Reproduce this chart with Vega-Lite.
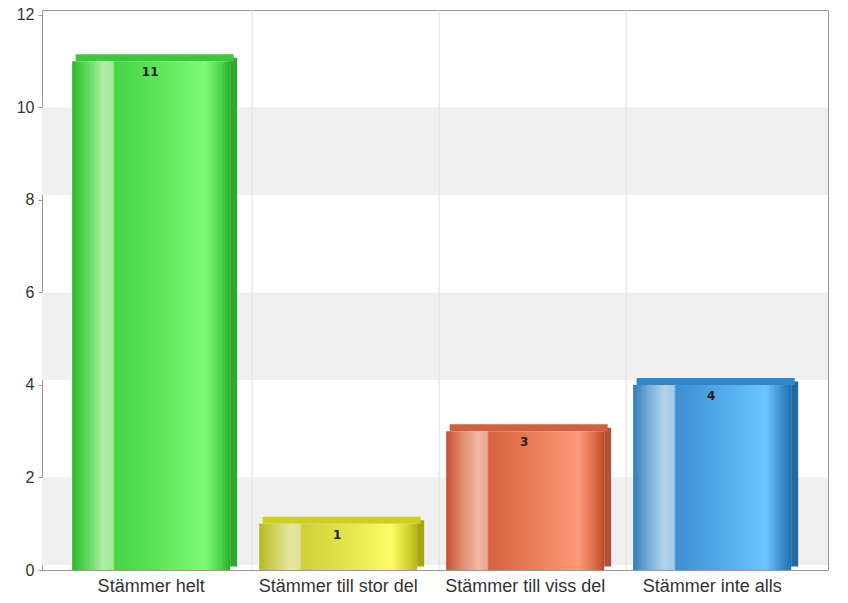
{
  "$schema": "https://vega.github.io/schema/vega-lite/v6.json",
  "width": 786,
  "height": 560,
  "autosize": {"type": "none"},
  "padding": {"left": 42, "top": 10, "right": 20, "bottom": 33},
  "background": "white",
  "config": {
    "view": {"stroke": "#999999", "strokeWidth": 1},
    "font": "Liberation Sans",
    "axis": {"labelFont": "Liberation Sans", "labelFontSize": 16, "labelColor": "#333333", "domainColor": "#999999", "tickColor": "#999999", "grid": false, "title": null},
    "axisX": {"labelAngle": 0, "ticks": false, "labelPadding": 7, "labelFontSize": 18, "bandPosition": 0.5, "labelAlign": "center"}
  },
  "data": {
    "values": [
      {"cat": "Stämmer helt", "n": 11},
      {"cat": "Stämmer till stor del", "n": 1},
      {"cat": "Stämmer till viss del", "n": 3},
      {"cat": "Stämmer inte alls", "n": 4}
    ]
  },
  "resolve": {"scale": {"color": "independent"}},
  "layer": [
    {
      "data": {"values": [{"a": 0, "b": 2}, {"a": 4, "b": 6}, {"a": 8, "b": 10}]},
      "mark": {"type": "rect", "color": "#f0f0f0", "yOffset": -5},
      "encoding": {
        "x": {"value": 0},
        "x2": {"value": "width"},
        "y": {"field": "a", "type": "quantitative", "scale": {"domain": [0, 12.108], "nice": false, "zero": true},
              "axis": {"values": [0, 2, 4, 6, 8, 10, 12], "tickSize": 4, "labelPadding": 4, "domainColor": "#999999"}},
        "y2": {"field": "b"}
      }
    },
    {
      "transform": [{"filter": "datum.cat !== 'Stämmer helt'"}],
      "mark": {"type": "rule", "color": "#e0e0e0", "xOffset": -7},
      "encoding": {
        "x": {"field": "cat", "type": "nominal", "sort": ["Stämmer helt", "Stämmer till stor del", "Stämmer till viss del", "Stämmer inte alls"], "bandPosition": 0,
              "scale": {"paddingInner": 0.155, "paddingOuter": 0.179, "align": 0.45},
              "axis": {"labelAngle": 0, "ticks": false, "labelPadding": 7, "labelFontSize": 18, "bandPosition": 0.5, "labelAlign": "center", "domainColor": "#999999"}}
      }
    },
    {
      "mark": {"type": "bar", "width": 7, "xOffset": 82.5, "yOffset": -3.5},
      "encoding": {
        "x": {"field": "cat", "type": "nominal", "sort": ["Stämmer helt", "Stämmer till stor del", "Stämmer till viss del", "Stämmer inte alls"]},
        "y": {"field": "n", "type": "quantitative"},
        "color": {"field": "cat", "type": "nominal", "legend": null,
                  "scale": {"domain": ["Stämmer helt", "Stämmer till stor del", "Stämmer till viss del", "Stämmer inte alls"],
                            "range": ["#2ea82e", "#a6a614", "#b0533a", "#1f6aa4"]}}
      }
    },
    {
      "mark": {"type": "tick", "thickness": 7, "size": 158, "xOffset": 3.5, "yOffset": -3.5, "opacity": 1},
      "encoding": {
        "x": {"field": "cat", "type": "nominal", "sort": ["Stämmer helt", "Stämmer till stor del", "Stämmer till viss del", "Stämmer inte alls"]},
        "y": {"field": "n", "type": "quantitative"},
        "color": {"field": "cat", "type": "nominal", "legend": null,
                  "scale": {"domain": ["Stämmer helt", "Stämmer till stor del", "Stämmer till viss del", "Stämmer inte alls"],
                            "range": ["#3cc83c", "#cfcf22", "#d0603e", "#2a88d0"]}}
      }
    },
    {
      "transform": [{"filter": "datum.cat === 'Stämmer helt'"}],
      "mark": {"type": "bar", "fill": {"gradient": "linear", "x1": 0, "y1": 0, "x2": 1, "y2": 0,
        "stops": [
          {"offset": 0, "color": "#2cbc2c"}, {"offset": 0.1, "color": "#60d860"}, {"offset": 0.2, "color": "#b0eea8"},
          {"offset": 0.26, "color": "#a0e898"}, {"offset": 0.27, "color": "#44d444"}, {"offset": 0.55, "color": "#5ee65a"},
          {"offset": 0.84, "color": "#80fa78"}, {"offset": 0.94, "color": "#4cd44c"}, {"offset": 1, "color": "#28b028"}]}},
      "encoding": {
        "x": {"field": "cat", "type": "nominal", "sort": ["Stämmer helt", "Stämmer till stor del", "Stämmer till viss del", "Stämmer inte alls"]},
        "y": {"field": "n", "type": "quantitative"}
      }
    },
    {
      "transform": [{"filter": "datum.cat === 'Stämmer till stor del'"}],
      "mark": {"type": "bar", "fill": {"gradient": "linear", "x1": 0, "y1": 0, "x2": 1, "y2": 0,
        "stops": [
          {"offset": 0, "color": "#b8b826"}, {"offset": 0.1, "color": "#d0d060"}, {"offset": 0.2, "color": "#e8e8a4"},
          {"offset": 0.26, "color": "#e0e090"}, {"offset": 0.27, "color": "#cfcf3c"}, {"offset": 0.55, "color": "#e4e44c"},
          {"offset": 0.84, "color": "#fcfc66"}, {"offset": 0.94, "color": "#d4d432"}, {"offset": 1, "color": "#b6b61c"}]}},
      "encoding": {
        "x": {"field": "cat", "type": "nominal", "sort": ["Stämmer helt", "Stämmer till stor del", "Stämmer till viss del", "Stämmer inte alls"]},
        "y": {"field": "n", "type": "quantitative"}
      }
    },
    {
      "transform": [{"filter": "datum.cat === 'Stämmer till viss del'"}],
      "mark": {"type": "bar", "fill": {"gradient": "linear", "x1": 0, "y1": 0, "x2": 1, "y2": 0,
        "stops": [
          {"offset": 0, "color": "#c65232"}, {"offset": 0.1, "color": "#e08a70"}, {"offset": 0.2, "color": "#f0b8a4"},
          {"offset": 0.26, "color": "#eaa890"}, {"offset": 0.27, "color": "#d6623e"}, {"offset": 0.55, "color": "#ea7c58"},
          {"offset": 0.84, "color": "#ff9a7a"}, {"offset": 0.94, "color": "#dc6a48"}, {"offset": 1, "color": "#c04c2c"}]}},
      "encoding": {
        "x": {"field": "cat", "type": "nominal", "sort": ["Stämmer helt", "Stämmer till stor del", "Stämmer till viss del", "Stämmer inte alls"]},
        "y": {"field": "n", "type": "quantitative"}
      }
    },
    {
      "transform": [{"filter": "datum.cat === 'Stämmer inte alls'"}],
      "mark": {"type": "bar", "fill": {"gradient": "linear", "x1": 0, "y1": 0, "x2": 1, "y2": 0,
        "stops": [
          {"offset": 0, "color": "#2e7cbc"}, {"offset": 0.1, "color": "#78aed8"}, {"offset": 0.2, "color": "#b4d4ea"},
          {"offset": 0.26, "color": "#a2c8e4"}, {"offset": 0.27, "color": "#3a8ed2"}, {"offset": 0.55, "color": "#52a8e8"},
          {"offset": 0.84, "color": "#6cc4ff"}, {"offset": 0.94, "color": "#3c8ccc"}, {"offset": 1, "color": "#2470ac"}]}},
      "encoding": {
        "x": {"field": "cat", "type": "nominal", "sort": ["Stämmer helt", "Stämmer till stor del", "Stämmer till viss del", "Stämmer inte alls"]},
        "y": {"field": "n", "type": "quantitative"}
      }
    },
    {
      "mark": {"type": "text", "font": "DejaVu Sans", "fontWeight": "bold", "fontSize": 12, "baseline": "middle", "dy": 11, "dx": -1, "color": "#222222"},
      "encoding": {
        "x": {"field": "cat", "type": "nominal", "sort": ["Stämmer helt", "Stämmer till stor del", "Stämmer till viss del", "Stämmer inte alls"]},
        "y": {"field": "n", "type": "quantitative"},
        "text": {"field": "n", "type": "quantitative"}
      }
    }
  ]
}
